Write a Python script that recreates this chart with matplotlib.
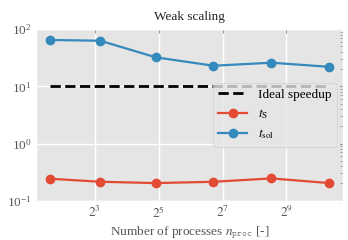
import matplotlib
matplotlib.use("Agg")
import matplotlib.pyplot as plt
from matplotlib.ticker import LogLocator, NullFormatter

plt.style.use("ggplot")
plt.rcParams["font.family"] = ["Liberation Serif", "DejaVu Serif"]
plt.rcParams["mathtext.fontset"] = "stix"

n_proc = [3, 9, 30, 105, 370, 1300]
t_s = [0.242, 0.214, 0.203, 0.214, 0.245, 0.203]
t_sol = [65, 63, 32.3, 23, 26, 22]
ideal = [10, 10, 10, 10, 10, 10]
xtick_vals = [2**3, 2**5, 2**7, 2**9]
xtick_labels = [r"$2^{3}$", r"$2^{5}$", r"$2^{7}$", r"$2^{9}$"]

FS = 9.5

fig = plt.figure(figsize=(3.48, 2.40), dpi=100)
ax = fig.add_axes([0.1026, 0.164, 0.8839, 0.714])

ax.plot(n_proc, ideal, "--", color="k", lw=2, label="Ideal speedup")
ax.plot(n_proc, t_s, "-o", lw=1.6, ms=6, label=r"$t_{\mathrm{S}}$")
ax.plot(n_proc, t_sol, "-o", lw=1.6, ms=6, label=r"$t_{\mathrm{sol}}$")

ax.set_xscale("log", base=2)
ax.set_yscale("log")
ax.set_ylim(0.1, 100)
ax.set_xticks(xtick_vals)
ax.set_xticklabels(xtick_labels)
ax.xaxis.set_minor_locator(plt.NullLocator())
ax.yaxis.set_minor_locator(LogLocator(base=10, subs=range(2, 10)))
ax.yaxis.set_minor_formatter(NullFormatter())

ax.tick_params(axis="x", which="both", bottom=False, top=True, direction="in",
               length=3, color="#999999", labelsize=FS, labelcolor="#555555", pad=3)
ax.tick_params(axis="y", which="both", left=False, right=True, direction="in",
               color="#999999", labelsize=FS, labelcolor="#555555", pad=3)
ax.tick_params(axis="y", which="major", length=3)
ax.tick_params(axis="y", which="minor", length=2)
ax.grid(True, which="major", color="white", lw=1)

ax.set_title("Weak scaling", fontsize=FS, color="#222222", pad=7)
ax.set_xlabel(r"Number of processes $n_{\mathtt{proc}}$ [-]", fontsize=FS, color="#555555", labelpad=3)

leg = ax.legend(loc="center right", fontsize=FS, framealpha=0.8, facecolor="#E5E5E5",
                edgecolor="#CCCCCC", handlelength=2.2)

fig.savefig("out.png", dpi=100)
